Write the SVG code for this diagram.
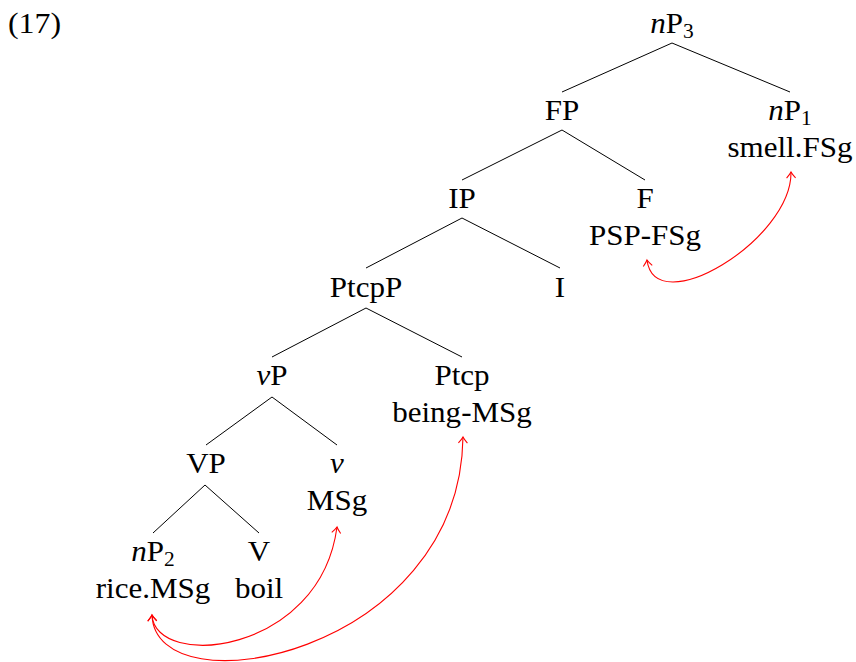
<svg xmlns="http://www.w3.org/2000/svg" width="856" height="662" viewBox="0 0 856 662">
<defs>
<style>
.t{font-family:"Liberation Serif","Times New Roman",serif;font-size:29px;fill:#000;text-anchor:middle;transform:scaleX(1.07);}
.num{font-family:"Liberation Serif","Times New Roman",serif;font-size:29px;fill:#000;transform:scaleX(1.1);}
.sub{font-size:20px;}
.it{font-style:italic;}
.edge{stroke:#000;stroke-width:1;fill:none;}
.mov{stroke:#ff0000;stroke-width:1.1;fill:none;marker-start:url(#tip);marker-end:url(#tip);}
</style>
<marker id="tip" viewBox="-8 -6 10 12" refX="0" refY="0" markerWidth="10" markerHeight="12" markerUnits="userSpaceOnUse" orient="auto-start-reverse">
<path d="M -6 -4.5 Q -2 -1 0 0 Q -2 1 -6 4.5" stroke="#ff0000" stroke-width="1.1" fill="none"/>
</marker>
</defs>
<rect width="856" height="662" fill="#fff"/>
<g transform="translate(8,33)"><text class="num">(17)</text></g>
<g id="connectors">
<line class="edge" x1="672" y1="43" x2="562" y2="92"/>
<line class="edge" x1="672" y1="43" x2="790" y2="92"/>
<line class="edge" x1="562" y1="130" x2="462" y2="180"/>
<line class="edge" x1="562" y1="130" x2="645" y2="180"/>
<line class="edge" x1="462" y1="218" x2="366" y2="268"/>
<line class="edge" x1="462" y1="218" x2="560" y2="268"/>
<line class="edge" x1="366" y1="308" x2="272" y2="357"/>
<line class="edge" x1="366" y1="308" x2="462" y2="357"/>
<line class="edge" x1="272" y1="397" x2="206" y2="445"/>
<line class="edge" x1="272" y1="397" x2="337" y2="445"/>
<line class="edge" x1="205" y1="485" x2="153" y2="533"/>
<line class="edge" x1="205" y1="485" x2="259" y2="533"/>
<path id="mv1" class="mov" d="M 791 172 C 792 240, 655 322, 647 260"/>
<path id="mv2" class="mov" d="M 152 615 C 155 670, 320 655, 337 527"/>
<path id="mv3" class="mov" d="M 152 615 C 155 712, 460 655, 463 437"/>
</g>
<g id="nP3" transform="translate(672,33)"><text class="t"><tspan class="it">n</tspan>P<tspan class="sub" dy="5">3</tspan></text></g>
<g id="FP" transform="translate(562,120)"><text class="t">FP</text></g>
<g id="nP1" transform="translate(790,120)"><text class="t"><tspan class="it">n</tspan>P<tspan class="sub" dy="5">1</tspan></text><text class="t" y="37">smell.FSg</text></g>
<g id="IP" transform="translate(462,208)"><text class="t">IP</text></g>
<g id="F" transform="translate(645,208)"><text class="t">F</text><text class="t" y="37">PSP-FSg</text></g>
<g id="PtcpP" transform="translate(366,297)"><text class="t">PtcpP</text></g>
<g id="I" transform="translate(560,297)"><text class="t">I</text></g>
<g id="vP" transform="translate(272,385)"><text class="t"><tspan class="it">v</tspan>P</text></g>
<g id="Ptcp" transform="translate(462,385)"><text class="t">Ptcp</text><text class="t" y="37">being-MSg</text></g>
<g id="VP" transform="translate(206,473)"><text class="t">VP</text></g>
<g id="v" transform="translate(337,473)"><text class="t"><tspan class="it">v</tspan></text><text class="t" y="37">MSg</text></g>
<g id="nP2" transform="translate(153,561)"><text class="t"><tspan class="it">n</tspan>P<tspan class="sub" dy="5">2</tspan></text><text class="t" y="37">rice.MSg</text></g>
<g id="V" transform="translate(259,561)"><text class="t">V</text><text class="t" y="37">boil</text></g>
</svg>
